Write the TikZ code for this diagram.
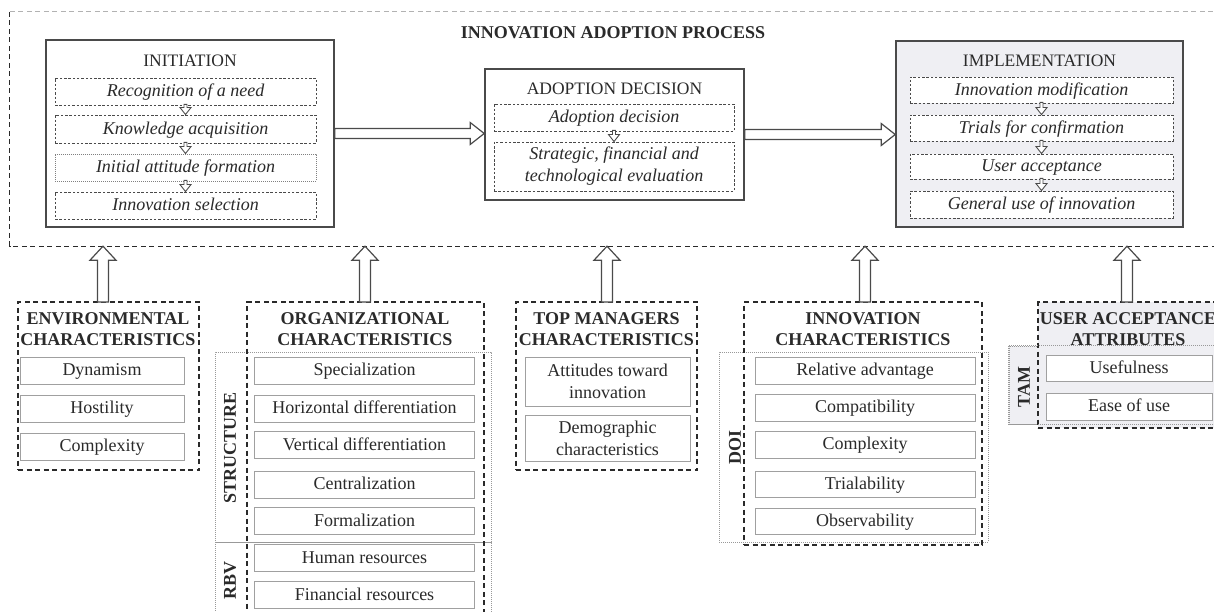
\documentclass[tikz,border=0pt]{standalone}
\usepackage{fontspec}
\setmainfont{Liberation Serif}
\usetikzlibrary{calc}
\definecolor{ink}{HTML}{2A2A2A}
\definecolor{frame}{HTML}{4A4A4A}
\definecolor{implfill}{HTML}{EFEFF3}
\definecolor{itemline}{HTML}{A0A0A0}
\tikzset{
  every node/.style={text=ink},
  phase/.style={draw=frame, line width=1.6pt, inner sep=0pt},
  ptitle/.style={font=\fontsize{17.5}{21}\selectfont, inner sep=0pt},
  mtitle/.style={font=\fontsize{18}{21}\selectfont\bfseries, inner sep=0pt},
  subbase/.style={draw=frame, dash pattern=on 2.5pt off 1.8pt, line width=0.9pt, fill=white, inner sep=0pt, font=\fontsize{18}{22}\selectfont\itshape, align=center},
  sub/.style={subbase, text height=12pt, text depth=1.5pt},
  subdot/.style={sub, draw=gray, dash pattern=on 0.8pt off 1.2pt},
  itembase/.style={draw=itemline, line width=1pt, fill=white, inner sep=0pt, font=\fontsize{18}{22}\selectfont, align=center},
  item/.style={itembase, text height=12pt, text depth=1.5pt},
  grp/.style={draw=ink, dash pattern=on 5pt off 3.5pt, line width=1.3pt, inner sep=0pt},
  side/.style={draw=gray!80, dash pattern=on 0.8pt off 1.2pt, line width=0.8pt, inner sep=0pt},
  gtitle/.style={font=\fontsize{18}{21}\selectfont\bfseries, align=center, inner sep=0pt},
  vlabel/.style={font=\fontsize{18}{21}\selectfont\bfseries, rotate=90, inner sep=0pt},
  barrow/.style={draw=frame, line width=1.2pt, fill=white, line join=miter},
  sarrow/.style={draw=frame, line width=0.9pt, fill=white},
  bigdash/.style={draw=ink, dash pattern=on 5pt off 3.5pt, line width=1.3pt},
  topdash/.style={draw=gray!60, dash pattern=on 5pt off 3.5pt, line width=1pt}
}
\newcommand\RtBlk[2]{\draw[barrow] let \p1=(#1), \p2=(#2) in
  (\x1,\y1+5) -- (\x2-14,\y1+5) -- (\x2-14,\y1+11) -- (\x2,\y1) -- (\x2-14,\y1-11) -- (\x2-14,\y1-5) -- (\x1,\y1-5) -- cycle;}
\newcommand\UpBlk[2]{\draw[barrow] let \p1=(#1), \p2=(#2) in
  (\x1-5.5,\y1) -- (\x1-5.5,\y2-14) -- (\x1-13,\y2-14) -- (\x1,\y2) -- (\x1+13,\y2-14) -- (\x1+5.5,\y2-14) -- (\x1+5.5,\y1) -- cycle;}
\newcommand\DnSmall[2]{\draw[sarrow] let \p1=(#1.south), \p2=(#2.north) in
  (\x1-1.5,\y1+1) -- (\x1-1.5,\y2+7) -- (\x1-5.5,\y2+7) -- (\x1,\y2) -- (\x1+5.5,\y2+7) -- (\x1+1.5,\y2+7) -- (\x1+1.5,\y1+1) -- cycle;}
\begin{document}
\begin{tikzpicture}[x=1pt,y=-1pt]
\useasboundingbox (0,0) rectangle (1214,612);
\clip (0,0) rectangle (1214,612);

% outer process frame
\node[minimum width=1230pt, minimum height=234pt, inner sep=0pt] (outer) at (625,129) {};
\draw[bigdash] (outer.north west) -- (outer.south west) -- (outer.south east);
\draw[topdash] (outer.north west) -- (outer.north east);
\node[mtitle] (ttl) at (613,33) {INNOVATION ADOPTION PROCESS};

% INITIATION
\node[phase, fill=white, minimum width=288pt, minimum height=187pt] (init) at (190,133.5) {};
\node[ptitle] (initT) at (190,61) {INITIATION};
\node[sub, minimum width=261pt, minimum height=27pt] (i1) at (185.5,91.5) {Recognition of a need};
\node[sub, minimum width=261pt, minimum height=28pt] (i2) at (185.5,129) {Knowledge acquisition};
\node[subdot, minimum width=261pt, minimum height=27pt] (i3) at (185.5,167.5) {Initial attitude formation};
\node[sub, minimum width=261pt, minimum height=27pt] (i4) at (185.5,205.5) {Innovation selection};
\DnSmall{i1}{i2}
\DnSmall{i2}{i3}
\DnSmall{i3}{i4}

% ADOPTION DECISION
\node[phase, fill=white, minimum width=259pt, minimum height=131pt] (adopt) at (614.5,134.5) {};
\node[ptitle] (adoptT) at (614.5,89) {ADOPTION DECISION};
\node[sub, minimum width=240pt, minimum height=27pt] (a1) at (614,117.5) {Adoption decision};
\node[subbase, minimum width=240pt, minimum height=49pt] (a2) at (614,166.5) {Strategic, financial and\\technological evaluation};
\DnSmall{a1}{a2}

% IMPLEMENTATION
\node[phase, fill=implfill, minimum width=287pt, minimum height=186pt] (impl) at (1039.5,134) {};
\node[ptitle] (implT) at (1039.5,61) {IMPLEMENTATION};
\node[sub, minimum width=263pt, minimum height=26pt] (m1) at (1041.5,90) {Innovation modification};
\node[sub, minimum width=263pt, minimum height=26pt] (m2) at (1041.5,128) {Trials for confirmation};
\node[sub, minimum width=263pt, minimum height=25pt] (m3) at (1041.5,166.5) {User acceptance};
\node[sub, minimum width=263pt, minimum height=27pt] (m4) at (1041.5,204.5) {General use of innovation};
\DnSmall{m1}{m2}
\DnSmall{m2}{m3}
\DnSmall{m3}{m4}

\RtBlk{init.east}{adopt.west}
\RtBlk{adopt.east}{impl.west}

% ENVIRONMENTAL
\node[grp, minimum width=181pt, minimum height=168pt] (env) at (108.5,386) {};
\node[gtitle] (envT) at (108,329.5) {ENVIRONMENTAL\\CHARACTERISTICS};
\node[item, minimum width=164pt, minimum height=27pt] (e1) at (102,370.5) {Dynamism};
\node[item, minimum width=164pt, minimum height=27pt] (e2) at (102,408.5) {Hostility};
\node[item, minimum width=164pt, minimum height=27pt] (e3) at (102,446.5) {Complexity};

% ORGANIZATIONAL
\node[side, minimum width=276pt, minimum height=190pt] (struct) at (353,447) {};
\node[side, minimum width=276pt, minimum height=98pt] (rbv) at (353,591) {};
\node[grp, minimum width=237pt, minimum height=338pt] (org) at (365.5,471) {};
\node[gtitle] (orgT) at (365,329.5) {ORGANIZATIONAL\\CHARACTERISTICS};
\node[vlabel] (structL) at (230,448) {STRUCTURE};
\node[vlabel] (rbvL) at (230,580) {RBV};
\node[item, minimum width=220pt, minimum height=27pt] (o1) at (364.5,370.5) {Specialization};
\node[item, minimum width=220pt, minimum height=27pt] (o2) at (364.5,408.5) {Horizontal differentiation};
\node[item, minimum width=220pt, minimum height=27pt] (o3) at (364.5,445) {Vertical differentiation};
\node[item, minimum width=220pt, minimum height=27pt] (o4) at (364.5,484.5) {Centralization};
\node[item, minimum width=220pt, minimum height=27pt] (o5) at (364.5,521) {Formalization};
\node[item, minimum width=220pt, minimum height=27pt] (o6) at (364.5,558) {Human resources};
\node[item, minimum width=220pt, minimum height=27pt] (o7) at (364.5,595) {Financial resources};

% TOP MANAGERS
\node[grp, minimum width=181pt, minimum height=168pt] (tm) at (606.5,386) {};
\node[gtitle] (tmT) at (606.5,329.5) {TOP MANAGERS\\CHARACTERISTICS};
\node[itembase, minimum width=165pt, minimum height=49pt] (t1) at (607.5,381.5) {Attitudes toward\\innovation};
\node[itembase, minimum width=165pt, minimum height=46pt] (t2) at (607.5,438) {Demographic\\characteristics};

% INNOVATION
\node[side, minimum width=269pt, minimum height=190pt] (doi) at (853.5,447) {};
\node[grp, minimum width=238pt, minimum height=243pt] (inn) at (863,423.5) {};
\node[gtitle] (innT) at (863,329.5) {INNOVATION\\CHARACTERISTICS};
\node[vlabel] (doiL) at (735,447) {DOI};
\node[item, minimum width=220pt, minimum height=27pt] (n1) at (865,370.5) {Relative advantage};
\node[item, minimum width=220pt, minimum height=27pt] (n2) at (865,407.5) {Compatibility};
\node[item, minimum width=220pt, minimum height=27pt] (n3) at (865,444.5) {Complexity};
\node[item, minimum width=220pt, minimum height=26pt] (n4) at (865,484) {Trialability};
\node[item, minimum width=220pt, minimum height=26pt] (n5) at (865,521) {Observability};

% USER ACCEPTANCE
\node[side, fill=implfill, minimum width=231pt, minimum height=78pt] (tam) at (1124.5,385) {};
\node[grp, fill=implfill, minimum width=180pt, minimum height=126pt] (ua) at (1128,365) {};
\draw[side] (tam.north west) rectangle (tam.south east);
\node[gtitle] (uaT) at (1128,329.5) {USER ACCEPTANCE\\ATTRIBUTES};
\node[vlabel] (tamL) at (1024,387) {TAM};
\node[item, minimum width=166pt, minimum height=26pt] (u1) at (1129,368) {Usefulness};
\node[item, minimum width=166pt, minimum height=27pt] (u2) at (1129,406.5) {Ease of use};

% up arrows
\coordinate (f1) at (103,302);
\coordinate (f2) at (365,302);
\coordinate (f3) at (607,302);
\coordinate (f4) at (865,302);
\coordinate (f5) at (1127,302);
\UpBlk{f1}{f1 |- outer.south}
\UpBlk{f2}{f2 |- outer.south}
\UpBlk{f3}{f3 |- outer.south}
\UpBlk{f4}{f4 |- outer.south}
\UpBlk{f5}{f5 |- outer.south}
\end{tikzpicture}
\end{document}
